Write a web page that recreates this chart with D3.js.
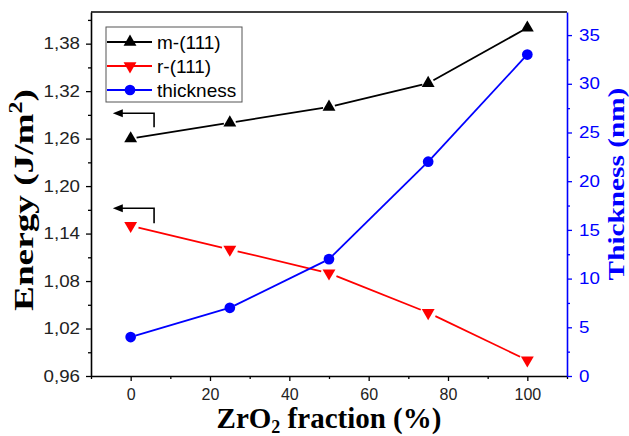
<!DOCTYPE html>
<html>
<head>
<meta charset="utf-8">
<script src="https://cdn.jsdelivr.net/npm/d3@7"></script>
<style>
  body { margin: 0; background: #fff; }
  svg { display: block; }
</style>
</head>
<body>
<div id="chart"></div>
<script>
// values
var fraction = [0, 25, 50, 75, 100];
var m111 = [1.26, 1.28, 1.30, 1.33, 1.40];
var r111 = [1.15, 1.12, 1.09, 1.04, 0.98];
var thickness = [4, 7, 12, 22, 33];
var xTicks = [0, 20, 40, 60, 80, 100];
var energyTicks = [0.96, 1.02, 1.08, 1.14, 1.20, 1.26, 1.32, 1.38];
var thickTicks = [0, 5, 10, 15, 20, 25, 30, 35];
// bent arrows pointing at the left axis: [x start, x end, energy top, energy bottom]
var arrows = [[-4.5, 5.9, 1.292, 1.2745], [-4.5, 5.9, 1.172, 1.153]];

var W = 629, H = 436;
var margin = {top: 12, right: 62, bottom: 60, left: 91};
var width = W - margin.left - margin.right,
    height = H - margin.top - margin.bottom;

var svg = d3.select("#chart").append("svg")
  .attr("width", W).attr("height", H);
var g = svg.append("g")
  .attr("transform", "translate(" + margin.left + "," + margin.top + ")");

var x = d3.scaleLinear().domain([-10, 110]).range([0, width]);
var yE = d3.scaleLinear().domain([0.96, 1.42]).range([height, 0]);
var yT = d3.scaleLinear().domain([0, 37.37]).range([height, 0]);

var comma = function(d) { return d3.format(".2f")(d).replace(".", ","); };
var sans = "Liberation Sans, Arial, sans-serif";
var serif = "Liberation Serif, Times New Roman, serif";

function styleAxis(sel, color, textColor) {
  sel.select(".domain").attr("stroke", color).attr("stroke-width", 1.6);
  sel.selectAll(".tick line").attr("stroke", color).attr("stroke-width", 1.3);
  sel.selectAll(".tick text").attr("fill", textColor)
    .style("font-family", sans).style("font-size", "16px");
}
function widen(sel, k) {
  sel.selectAll(".tick text").each(function() {
    var w = this.getComputedTextLength();
    d3.select(this).attr("textLength", w * k).attr("lengthAdjust", "spacingAndGlyphs");
  });
}
function minor(s, color) {
  s.select(".domain").remove();
  s.selectAll("line").attr("stroke", color).attr("stroke-width", 1.3);
}

// minor ticks
var xMinor = d3.range(-10, 111, 10).filter(function(v) { return xTicks.indexOf(v) < 0; });
g.append("g").attr("transform", "translate(0," + height + ")")
  .call(d3.axisBottom(x).tickValues(xMinor).tickSize(3).tickFormat(""))
  .call(minor, "#000");
g.append("g")
  .call(d3.axisLeft(yE).tickValues(d3.range(0.99, 1.42, 0.06)).tickSize(3).tickFormat(""))
  .call(minor, "#000");
g.append("g").attr("transform", "translate(" + width + ",0)")
  .call(d3.axisRight(yT).tickValues(d3.range(2.5, 37, 5)).tickSize(3).tickFormat(""))
  .call(minor, "#0000ff");

// top frame line
g.append("line").attr("x1", 0).attr("x2", width).attr("y1", 0).attr("y2", 0)
  .attr("stroke", "#000").attr("stroke-width", 1.6);

g.append("g").attr("transform", "translate(0," + height + ")")
  .call(d3.axisBottom(x).tickValues(xTicks).tickSize(5).tickPadding(8).tickSizeOuter(0))
  .call(styleAxis, "#000", "#222");

g.append("g")
  .call(d3.axisLeft(yE).tickValues(energyTicks).tickFormat(comma).tickSize(5).tickPadding(6).tickSizeOuter(0))
  .call(styleAxis, "#000", "#222")
  .call(widen, 1.17);

g.append("g").attr("transform", "translate(" + width + ",0)")
  .call(d3.axisRight(yT).tickValues(thickTicks).tickSize(5).tickPadding(7).tickSizeOuter(0))
  .call(styleAxis, "#0000ff", "#0000ff")
  .call(widen, 1.17);

// series
var series = [
  {name: "m-(111)", vals: m111, y: yE, color: "#000000", sym: d3.symbolTriangle, rot: 0, gap: 6},
  {name: "r-(111)", vals: r111, y: yE, color: "#ff0000", sym: d3.symbolTriangle, rot: 180, gap: 8},
  {name: "thickness", vals: thickness, y: yT, color: "#0000ff", sym: d3.symbolCircle, rot: 0, gap: 5}
];
function symSize(s) { return s.sym === d3.symbolCircle ? 90 : 72; }

series.forEach(function(s) {
  var pts = fraction.map(function(f, i) { return [x(f), s.y(s.vals[i])]; });
  var segs = d3.pairs(pts).map(function(p) {
    var dx = p[1][0] - p[0][0], dy = p[1][1] - p[0][1], L = Math.hypot(dx, dy);
    var ux = dx / L * s.gap, uy = dy / L * s.gap;
    return [[p[0][0] + ux, p[0][1] + uy], [p[1][0] - ux, p[1][1] - uy]];
  });
  g.selectAll(null).data(segs).enter().append("path")
    .attr("d", function(d) { return d3.line()(d); })
    .attr("fill", "none").attr("stroke", s.color).attr("stroke-width", 1.8);
  g.selectAll(null).data(pts).enter().append("path")
    .attr("d", d3.symbol().type(s.sym).size(symSize(s)))
    .attr("transform", function(p) { return "translate(" + p[0] + "," + p[1] + ") rotate(" + s.rot + ")"; })
    .attr("fill", s.color);
});

// arrows
arrows.forEach(function(a) {
  var x0 = x(a[0]), x1 = x(a[1]), yt = yE(a[2]), yb = yE(a[3]);
  g.append("path")
    .attr("d", "M" + x1 + "," + yb + " V" + yt + " H" + (x0 + 6))
    .attr("fill", "none").attr("stroke", "#000").attr("stroke-width", 1.6);
  g.append("path")
    .attr("d", "M" + x0 + "," + yt + " L" + (x0 + 10) + "," + (yt - 4) + " L" + (x0 + 10) + "," + (yt + 4) + " Z")
    .attr("fill", "#000");
});

// legend
var lg = g.append("g").attr("transform", "translate(15,15)");
lg.append("rect").attr("width", 136).attr("height", 75)
  .attr("fill", "#fff").attr("stroke", "#555").attr("stroke-width", 1);
series.forEach(function(s, i) {
  var ly = 15 + i * 24;
  lg.append("line").attr("x1", 1).attr("x2", 46).attr("y1", ly).attr("y2", ly)
    .attr("stroke", s.color).attr("stroke-width", 1.8);
  lg.append("path")
    .attr("d", d3.symbol().type(s.sym).size(symSize(s)))
    .attr("transform", "translate(24," + ly + ") rotate(" + s.rot + ")")
    .attr("fill", s.color);
  lg.append("text").attr("x", 51).attr("y", ly + 6.5).text(s.name)
    .style("font-family", sans).style("font-size", "19px");
});

// titles
var tE = svg.append("text").attr("transform", "translate(33,200) rotate(-90) scale(1.33,1)")
  .attr("text-anchor", "middle")
  .style("font-family", serif).style("font-size", "28px").style("font-weight", "bold");
tE.append("tspan").text("Energy (J/m");
tE.append("tspan").text("2").attr("dy", -11).style("font-size", "18px");
tE.append("tspan").text(")").attr("dy", 11);

svg.append("text").attr("transform", "translate(624,184) rotate(-90) scale(1.22,1)")
  .attr("text-anchor", "middle").attr("fill", "#0000ff")
  .style("font-family", serif).style("font-size", "24px").style("font-weight", "bold")
  .text("Thickness (nm)");

var tX = svg.append("text").attr("x", 329).attr("y", 428).attr("text-anchor", "middle")
  .style("font-family", serif).style("font-size", "29px").style("font-weight", "bold");
tX.append("tspan").text("ZrO");
tX.append("tspan").text("2").attr("dy", 5).style("font-size", "18px");
tX.append("tspan").text(" fraction (%)").attr("dy", -5);
</script>
</body>
</html>
